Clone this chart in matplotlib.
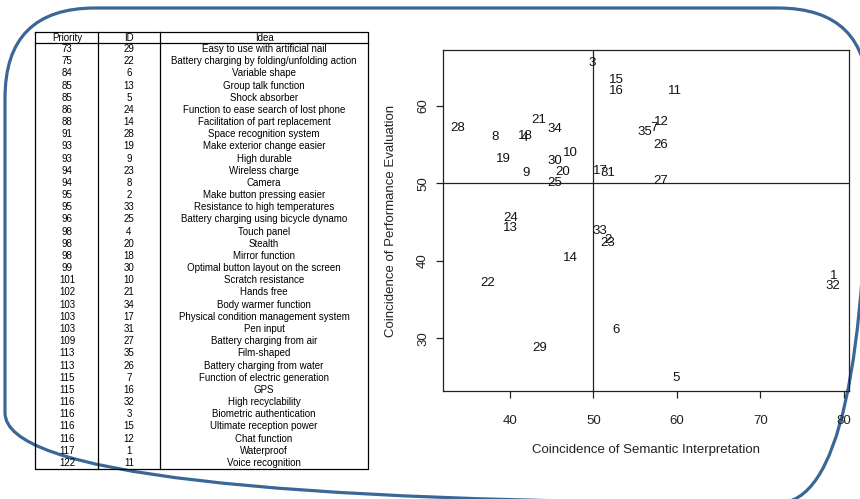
import matplotlib
matplotlib.use('Agg')
import matplotlib.pyplot as plt
from matplotlib.patches import FancyBboxPatch

plt.rcParams['font.family'] = ['Liberation Sans', 'DejaVu Sans']

# table data
priority = [73, 75, 84, 85, 85, 86, 88, 91, 93, 93, 94, 94, 95, 95, 96, 98, 98, 98,
            99, 101, 102, 103, 103, 103, 109, 113, 113, 115, 115, 116, 116, 116, 116,
            117, 122]
idea_id = [29, 22, 6, 13, 5, 24, 14, 28, 19, 9, 23, 8, 2, 33, 25, 4, 20, 18,
           30, 10, 21, 34, 17, 31, 27, 35, 26, 7, 16, 32, 3, 15, 12, 1, 11]
idea = ['Easy to use with artificial nail',
        'Battery charging by folding/unfolding action',
        'Variable shape',
        'Group talk function',
        'Shock absorber',
        'Function to ease search of lost phone',
        'Facilitation of part replacement',
        'Space recognition system',
        'Make exterior change easier',
        'High durable',
        'Wireless charge',
        'Camera',
        'Make button pressing easier',
        'Resistance to high temperatures',
        'Battery charging using bicycle dynamo',
        'Touch panel',
        'Stealth',
        'Mirror function',
        'Optimal button layout on the screen',
        'Scratch resistance',
        'Hands free',
        'Body warmer function',
        'Physical condition management system',
        'Pen input',
        'Battery charging from air',
        'Film-shaped',
        'Battery charging from water',
        'Function of electric generation',
        'GPS',
        'High recyclability',
        'Biometric authentication',
        'Ultimate reception power',
        'Chat function',
        'Waterproof',
        'Voice recognition']
headers = ['Priority', 'ID', 'Idea']

# scatter data (label = idea id)
pt_id = list(range(1, 36))
semantic = [78.8, 51.7, 49.9, 41.8, 59.85, 52.7, 57.2, 38.24, 41.9, 47.3,
            59.8, 58.2, 40.08, 47.3, 52.7, 52.7, 50.8, 41.9, 39.2, 46.3,
            43.5, 37.4, 51.7, 40.1, 45.4, 58.1, 58.1, 33.8, 43.6, 45.4,
            51.7, 78.7, 50.8, 45.4, 56.2]
performance = [38.0, 42.7, 65.6, 55.8, 24.8, 31.1, 57.1, 56.0, 51.3, 53.9,
               61.9, 57.9, 44.2, 40.3, 63.3, 61.9, 51.6, 56.1, 53.1, 51.5,
               58.2, 37.1, 42.3, 45.5, 50.0, 55.0, 50.3, 57.15, 28.7, 52.9,
               51.3, 36.7, 43.9, 57.0, 56.6]

W, H = 860, 499
fig = plt.figure(figsize=(W / 100, H / 100), dpi=100)

# background layer in pixel coordinates: frame + table
bg = fig.add_axes([0, 0, 1, 1])
bg.set_xlim(0, W)
bg.set_ylim(H, 0)
bg.axis('off')

frame = FancyBboxPatch((5, 8), 863, 495, boxstyle='round,pad=0,rounding_size=90',
                       fill=False, ec='#3b6797', lw=2.3, clip_on=False)
bg.add_patch(frame)

# table geometry (pixels)
t_left, t_right = 35, 368
t_top, t_head = 32, 43
row_h = 12.17
t_bottom = t_head + row_h * len(priority)
col_sep = [98, 160]
col_x = [67, 129, 264]
lc = 'black'
bg.plot([t_left, t_right, t_right, t_left, t_left],
        [t_top, t_top, t_bottom, t_bottom, t_top], color=lc, lw=0.9)
bg.plot([t_left, t_right], [t_head, t_head], color=lc, lw=0.9)
for cx in col_sep:
    bg.plot([cx, cx], [t_top, t_bottom], color=lc, lw=0.9)

fs_t = 7
for h, cx in zip(headers, col_x):
    bg.text(cx, (t_top + t_head) / 2 + 0.5, h, ha='center', va='center', fontsize=fs_t)
for i in range(len(priority)):
    yy = t_head + row_h * (i + 0.5)
    bg.text(col_x[0], yy, str(priority[i]), ha='center', va='center', fontsize=fs_t)
    bg.text(col_x[1], yy, str(idea_id[i]), ha='center', va='center', fontsize=fs_t)
    bg.text(col_x[2], yy, idea[i], ha='center', va='center', fontsize=fs_t)

# scatter plot of labels
ax = fig.add_axes([443 / W, 1 - 391 / H, 406 / W, 341 / H])
ax.patch.set_alpha(0)
for k, x, y in zip(pt_id, semantic, performance):
    ax.text(x, y, str(k), ha='center', va='center', fontsize=9.5, color='#111111')

dx = max(semantic) - min(semantic)
dy = max(performance) - min(performance)
ax.set_xlim(min(semantic) - 0.04 * dx, max(semantic) + 0.04 * dx)
ax.set_ylim(min(performance) - 0.04 * dy, max(performance) + 0.04 * dy)
ax.axvline(50, color='#222222', lw=0.9)
ax.axhline(50, color='#222222', lw=0.9)

ax.set_xticks([40, 50, 60, 70, 80])
ax.set_yticks([30, 40, 50, 60])
for s in ax.spines.values():
    s.set_linewidth(0.9)
    s.set_color('#222222')
ax.tick_params(direction='out', length=5, width=0.9, labelsize=9.5, colors='#222222')
ax.tick_params(axis='x', pad=12)
ax.tick_params(axis='y', pad=5)
for lab in ax.get_yticklabels():
    lab.set_rotation(90)
    lab.set_va('center')

ax.text(0.5, (391 - 450) / 341, 'Coincidence of Semantic Interpretation',
        transform=ax.transAxes, ha='center', va='center', fontsize=9.5, color='#222222')
ax.text((391 - 443) / 406, 0.5, 'Coincidence of Performance Evaluation',
        transform=ax.transAxes, ha='center', va='center', rotation=90,
        fontsize=9.5, color='#222222')

fig.savefig('out.png', dpi=100)
